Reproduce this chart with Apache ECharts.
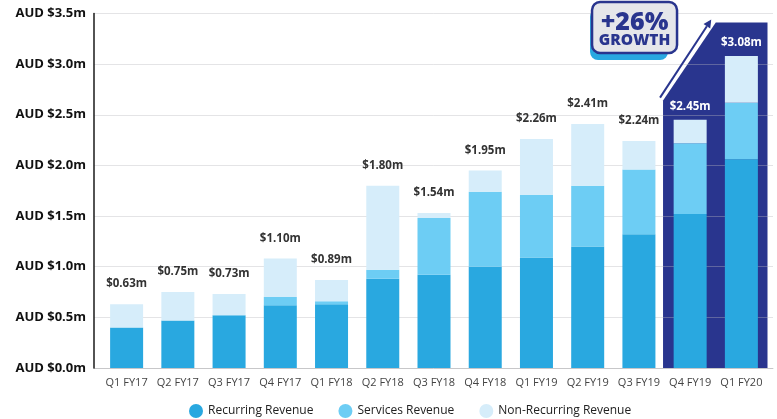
<!DOCTYPE html>
<html>
<head>
<meta charset="utf-8">
<script src="https://cdn.jsdelivr.net/npm/echarts@6/dist/echarts.min.js"></script>
<style>
html,body{margin:0;padding:0;background:#fff;}
#chart{width:777px;height:419px;}
</style>
</head>
<body>
<div id="chart"></div>
<script>
const categories = ['Q1 FY17','Q2 FY17','Q3 FY17','Q4 FY17','Q1 FY18','Q2 FY18','Q3 FY18','Q4 FY18','Q1 FY19','Q2 FY19','Q3 FY19','Q4 FY19','Q1 FY20'];
const recurring    = [0.40, 0.47, 0.52, 0.62, 0.63, 0.88, 0.92, 1.00, 1.09, 1.20, 1.32, 1.52, 2.06];
const services     = [0.00, 0.00, 0.00, 0.08, 0.03, 0.09, 0.56, 0.74, 0.62, 0.60, 0.64, 0.70, 0.56];
const nonRecurring = [0.23, 0.28, 0.21, 0.38, 0.21, 0.83, 0.05, 0.21, 0.55, 0.61, 0.28, 0.23, 0.46];
const totalLabels  = ['$0.63m','$0.75m','$0.73m','$1.10m','$0.89m','$1.80m','$1.54m','$1.95m','$2.26m','$2.41m','$2.24m','$2.45m','$3.08m'];
const yTickLabels  = ['AUD $0.0m','AUD $0.5m','AUD $1.0m','AUD $1.5m','AUD $2.0m','AUD $2.5m','AUD $3.0m','AUD $3.5m'];
const highlighted  = ['Q4 FY19','Q1 FY20'];
const badgeLines   = ['+26%','GROWTH'];

const NAVY = '#29358E';
const FONT = '"Open Sans", "Noto Sans", sans-serif';
const chart = echarts.init(document.getElementById('chart'));

const nonRecData = nonRecurring.map((v, i) => {
  const hi = highlighted.includes(categories[i]);
  return { value: v, label: { color: hi ? '#ffffff' : '#333333', distance: hi ? 7 : 14 } };
});

const option = {
  animation: false,
  textStyle: { fontFamily: FONT },
  grid: [
    { left: 101, right: 10, top: 13.5, bottom: 51 },
    { left: 94, right: 4, top: 13.5, bottom: 51 }
  ],
  xAxis: [
    { type: 'category', data: categories, gridIndex: 0,
      axisLine: { show: false }, axisTick: { show: false },
      axisLabel: { interval: 0, color: '#444', fontSize: 11, margin: 9, fontFamily: FONT } },
    { type: 'value', gridIndex: 1, min: 0, max: 1, show: true,
      axisLine: { show: true, lineStyle: { color: '#d0d0d0', width: 1 } },
      axisTick: { show: false }, axisLabel: { show: false }, splitLine: { show: false } }
  ],
  yAxis: [
    { type: 'value', gridIndex: 0, min: 0, max: 3.5, interval: 0.5, offset: 7, z: 3,
      axisLine: { show: true, lineStyle: { color: '#1a1a1a', width: 1.5 } },
      axisTick: { show: false }, splitLine: { show: false },
      axisLabel: { margin: 8, color: '#111', fontSize: 13, fontWeight: 'bold', fontFamily: FONT,
        formatter: (v) => yTickLabels[Math.round(v / 0.5)] } },
    { type: 'value', gridIndex: 1, min: 0, max: 3.5, interval: 0.5, z: 1,
      axisLine: { show: false }, axisTick: { show: false }, axisLabel: { show: false },
      splitLine: { show: true, lineStyle: { color: 'rgba(185,185,190,0.38)', width: 1 } } }
  ],
  legend: {
    left: 184, top: 399, icon: 'circle', itemWidth: 14, itemHeight: 14, itemGap: 25,
    textStyle: { color: '#222', fontSize: 12, fontFamily: FONT },
    data: ['Recurring Revenue', 'Services Revenue', 'Non-Recurring Revenue']
  },
  series: [
    { name: 'Recurring Revenue', type: 'bar', stack: 'rev', barWidth: 33, z: 2,
      itemStyle: { color: '#29A8E0' }, data: recurring },
    { name: 'Services Revenue', type: 'bar', stack: 'rev', barWidth: 33, z: 2,
      itemStyle: { color: '#6DCDF4' }, data: services },
    { name: 'Non-Recurring Revenue', type: 'bar', stack: 'rev', barWidth: 33, z: 2,
      itemStyle: { color: '#D6EDFA' },
      label: { show: true, position: 'top', fontSize: 11.5, fontWeight: 'bold', fontFamily: FONT,
        formatter: (p) => totalLabels[p.dataIndex] },
      data: nonRecData }
  ]
};
chart.setOption(option);

// Decorative highlight panel, arrow and badge positioned from the axes
const x0 = chart.convertToPixel({ xAxisIndex: 0 }, highlighted[0]);
const x1 = chart.convertToPixel({ xAxisIndex: 0 }, highlighted[1]);
const band = x1 - x0;
const yBase = chart.convertToPixel({ yAxisIndex: 0 }, 0);
const yTop = chart.convertToPixel({ yAxisIndex: 0 }, 3.41);
const yCut = chart.convertToPixel({ yAxisIndex: 0 }, 2.64);
const pl = x0 - band / 2 - 1.5, pr = x1 + band / 2 + 0.5, pm = x0 + band / 2;

// arrow parallel to the diagonal, offset to the left
const ax0 = pl - 3, ay0 = yCut - 3, ax1 = pm - 4.5, ay1 = yTop - 3;
const ang = Math.atan2(ay1 - ay0, ax1 - ax0);
const hl = 8, hw = 4;
const bx = ax1 - hl * Math.cos(ang), by = ay1 - hl * Math.sin(ang);
const head = [[ax1, ay1],
  [bx + hw * Math.sin(ang), by - hw * Math.cos(ang)],
  [bx - hw * Math.sin(ang), by + hw * Math.cos(ang)]];

const bL = pl - 71, bR = pl + 14, bT = 2, bB = 53;
const bc = (bL + bR) / 2;

chart.setOption({
  graphic: [
    { type: 'polygon', z: 0, silent: true,
      shape: { points: [[pl, yBase], [pl, yCut], [pm, yTop], [pr, yTop], [pr, yBase]] },
      style: { fill: NAVY } },
    { type: 'line', z: 5, silent: true,
      shape: { x1: ax0, y1: ay0, x2: bx, y2: by },
      style: { stroke: NAVY, lineWidth: 2 } },
    { type: 'polygon', z: 5, silent: true, shape: { points: head }, style: { fill: NAVY } },
    { type: 'rect', z: 5, silent: true,
      shape: { x: bL - 2, y: bT + 7, width: bR - bL - 7, height: bB - bT, r: 8 },
      style: { fill: '#29A8E0' } },
    { type: 'rect', z: 6, silent: true,
      shape: { x: bL, y: bT, width: bR - bL, height: bB - bT, r: 8 },
      style: { fill: '#E5E6EA', stroke: NAVY, lineWidth: 2.5 } },
    { type: 'text', z: 7, silent: true, x: bc, y: 23,
      style: { text: badgeLines[0], fill: NAVY, font: '800 25px ' + FONT, textAlign: 'center', textVerticalAlign: 'middle' } },
    { type: 'text', z: 7, silent: true, x: bc, y: 40.5,
      style: { text: badgeLines[1], fill: NAVY, font: '800 15.5px ' + FONT, textAlign: 'center', textVerticalAlign: 'middle' } }
  ]
});
</script>
</body>
</html>
